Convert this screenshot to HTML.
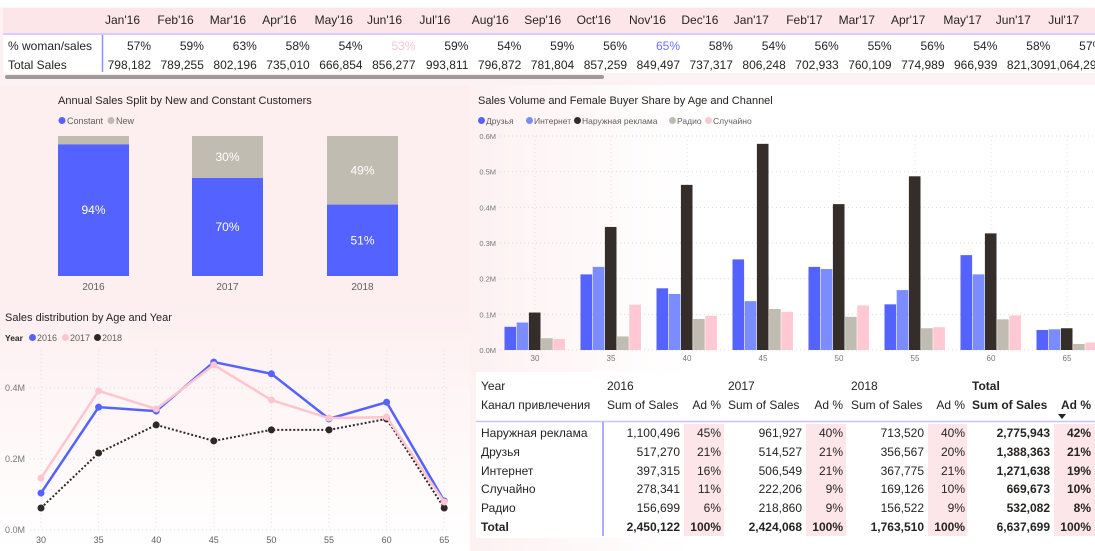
<!DOCTYPE html>
<html><head><meta charset="utf-8">
<style>
body{margin:0;width:1095px;height:551px;overflow:hidden;background:#fff;font-family:"Liberation Sans","DejaVu Sans",sans-serif;position:relative;color:#252423}
.abs{position:absolute}
svg text{font-family:"Liberation Sans","DejaVu Sans",sans-serif}
</style></head>
<body>
<div class="abs" style="left:0;top:85px;width:470px;height:466px;background:linear-gradient(180deg,#fdeef0 0%,#fdeef0 45%,#fef3f4 60%,#ffffff 100%)"></div>
<div class="abs" style="left:470px;top:85px;width:625px;height:466px;background:linear-gradient(90deg,#fdf1f2 0%,#ffffff 35%)"></div>
<div class="abs" style="left:0;top:0;width:1095px;height:85px;background:linear-gradient(180deg,#ffffff 0%,#ffffff 8%,#fdf2f3 9%)"></div>
<svg id="svg" class="abs" style="left:0;top:0" width="1095" height="551"></svg>
<script>
// ===== Top matrix data =====
const months=["Jan'16","Feb'16","Mar'16","Apr'16","May'16","Jun'16","Jul'16","Aug'16","Sep'16","Oct'16","Nov'16","Dec'16","Jan'17","Feb'17","Mar'17","Apr'17","May'17","Jun'17","Jul'17"];
const womanShare=["57%","59%","63%","58%","54%","53%","59%","54%","59%","56%","65%","58%","54%","56%","55%","56%","54%","58%","57%"];
const totalSales=["798,182","789,255","802,196","735,010","666,854","856,277","993,811","796,872","781,804","857,259","849,497","737,317","806,248","702,933","760,109","774,989","966,939","821,309","1,064,290"];
// ===== Stacked 100% bar data =====
const splitYears=["2016","2017","2018"];
const constantPct=[94,70,51];
const newPct=[6,30,49];
// ===== Clustered bar data (millions) =====
const ageGroups=[30,35,40,45,50,55,60,65];
const channelNames=["Друзья","Интернет","Наружная реклама","Радио","Случайно"];
const friends=[0.065,0.212,0.173,0.254,0.233,0.128,0.266,0.056];
const internet=[0.077,0.233,0.157,0.137,0.227,0.168,0.212,0.058];
const outdoor=[0.105,0.345,0.463,0.578,0.409,0.487,0.327,0.061];
const radio=[0.033,0.038,0.087,0.115,0.093,0.061,0.086,0.017];
const randomCh=[0.031,0.127,0.096,0.107,0.125,0.064,0.097,0.021];
const barTicks=[0,0.1,0.2,0.3,0.4,0.5,0.6];
const barTickLabels=["0.0M","0.1M","0.2M","0.3M","0.4M","0.5M","0.6M"];
// ===== Line chart data (millions) =====
const lineAges=[30,35,40,45,50,55,60,65];
const sales2016=[0.104,0.346,0.335,0.473,0.440,0.313,0.360,0.082];
const sales2017=[0.146,0.392,0.341,0.465,0.366,0.315,0.318,0.079];
const sales2018=[0.062,0.217,0.296,0.251,0.282,0.282,0.313,0.062];
const lineTicks=[0,0.2,0.4];
const lineTickLabels=["0.0M","0.2M","0.4M"];
// ===== Bottom table data =====
const tblChannels=["Наружная реклама","Друзья","Интернет","Случайно","Радио"];
const tbl2016=["1,100,496","517,270","397,315","278,341","156,699"];
const ad2016=["45%","21%","16%","11%","6%"];
const tbl2017=["961,927","514,527","506,549","222,206","218,860"];
const ad2017=["40%","21%","21%","9%","9%"];
const tbl2018=["713,520","356,567","367,775","169,126","156,522"];
const ad2018=["40%","20%","21%","10%","9%"];
const tblTotal=["2,775,943","1,388,363","1,271,638","669,673","532,082"];
const adTotal=["42%","21%","19%","10%","8%"];
const grand=["2,450,122","100%","2,424,068","100%","1,763,510","100%","6,637,699","100%"];

const svgEl=document.getElementById('svg');
const NS='http://www.w3.org/2000/svg';
function mk(tag,attrs,parent){const e=document.createElementNS(NS,tag);for(const k in attrs)e.setAttribute(k,attrs[k]);(parent||svgEl).appendChild(e);return e;}
function txt(x,y,s,size,fill,anchor,weight,parent){const t=mk('text',{x:x,y:y,'font-size':size,fill:fill,'text-anchor':anchor||'start','font-weight':weight||'normal'},parent);t.textContent=s;return t;}
function grp(name){const g=mk('g',{});return g;}
let tt;

// ---- top matrix ----
const topG=grp('monthly-matrix');
const hb=mk('rect',{x:3,y:8,width:1092,height:25,fill:'#fde6e9'},topG);


mk('line',{x1:3,y1:34,x2:1095,y2:34,stroke:'#c9c2ff','stroke-width':1.5},topG);
mk('rect',{x:3,y:35,width:1092,height:38,fill:'#ffffff'},topG);
mk('line',{x1:102.5,y1:35,x2:102.5,y2:72,stroke:'#8f8fff','stroke-width':1.5},topG);
tt=txt(8,50,'% woman/sales',12,'#252423','start','normal',topG);


tt=txt(8,69,'Total Sales',12,'#252423','start','normal',topG);


months.forEach((m,i)=>{
  const right=151+52.9*i;
  const h=txt(105+52.4*i,24,m,12,'#252423','start','normal',topG);
  
  
  let col='#252423';if(m==="Jun'16")col='#f8c6cf';if(m==="Nov'16")col='#6f6fff';
  const a=txt(right,50,womanShare[i],12,col,'end','normal',topG);
  
  
  const b=txt(right,69,totalSales[i],12,'#252423','end','normal',topG);
  
  
});
const sb=mk('rect',{x:5,y:75,width:599,height:4,rx:2,fill:'#9e9a9a'},topG);



// ---- stacked bar chart ----
const sg=grp('customer-split-chart');
tt=txt(58,104,'Annual Sales Split by New and Constant Customers',11,'#252423','start','normal',sg);


mk('circle',{cx:62,cy:120.5,r:3.5,fill:'#5462ff'},sg);
tt=txt(67,124,'Constant',9,'#605e5c','start','normal',sg);


mk('circle',{cx:111,cy:120.5,r:3.5,fill:'#c1bcb1'},sg);
tt=txt(116,124,'New',9,'#605e5c','start','normal',sg);


const sTop=136,sH=140,sX=[58,192,327],sW=71;
splitYears.forEach((y,i)=>{
  const hN=newPct[i]/100*sH, hC=constantPct[i]/100*sH;
  const rn=mk('rect',{x:sX[i],y:sTop,width:sW,height:hN,fill:'#c1bcb1'},sg);
  
  
  const rc=mk('rect',{x:sX[i],y:sTop+hN,width:sW,height:hC,fill:'#5462ff'},sg);
  
  
  if(newPct[i]>=10){const l=txt(sX[i]+sW/2,sTop+hN/2+4,newPct[i]+'%',12,'#fff','middle','normal',sg);
  }
  const l2=txt(sX[i]+sW/2,sTop+hN+hC/2+4,constantPct[i]+'%',12,'#fff','middle','normal',sg);
  
  
  const xl=txt(sX[i]+sW/2,290,y,10,'#605e5c','middle','normal',sg);
  
  
});

// ---- clustered bar chart ----
const bg=grp('channel-age-chart');
tt=txt(478,104,'Sales Volume and Female Buyer Share by Age and Channel',11,'#252423','start','normal',bg);


const chColors=['#5462ff','#7b8cff','#352d2a','#c1bcb1','#ffc8d3'];
const legX=[478,526,574,669,705];
channelNames.forEach((n,i)=>{
  mk('circle',{cx:legX[i]+3.5,cy:120.5,r:3.5,fill:chColors[i]},bg);
  const l=txt(legX[i]+8,124,n,8.5,'#605e5c','start','normal',bg);
  
  
});
const by=v=>350-v/0.6*214;
const gx=i=>535+76*i;
barTicks.forEach((v,i)=>{
  mk('line',{x1:500,y1:by(v),x2:1095,y2:by(v),stroke:'#ddd','stroke-dasharray':'1 3'},bg);
  const l=txt(496,by(v)+3,barTickLabels[i],7.5,'#777','end','normal',bg);
  
  
});
const series=[friends,internet,outdoor,radio,randomCh];
ageGroups.forEach((a,i)=>{
  mk('line',{x1:gx(i),y1:136,x2:gx(i),y2:350,stroke:'#e4e4e4','stroke-dasharray':'1 3'},bg);
  series.forEach((s,k)=>{
    const r=mk('rect',{x:gx(i)-30.5+12.2*k,y:by(s[i]),width:11.6,height:350-by(s[i]),fill:chColors[k]},bg);
    
    
  });
  const l=txt(gx(i),361,String(a),8,'#777','middle','normal',bg);
  
  
});

// ---- line chart ----
const lg=grp('age-year-line-chart');
tt=txt(5,321,'Sales distribution by Age and Year',11,'#252423','start','normal',lg);


tt=txt(5,341,'Year',8.5,'#252423','start','bold',lg);


const lcol=['#5462ff','#ffc5cf','#2f2826'];
[['2016',33],['2017',66],['2018',98]].forEach((e,i)=>{
  mk('circle',{cx:e[1]-0.5,cy:337.5,r:3.5,fill:lcol[i]},lg);
  const l=txt(e[1]+4,341,e[0],9,'#605e5c','start','normal',lg);
  
  
});
const lx=i=>41+57.6*i;
const ly=v=>530-v/0.2*71;
lineTicks.forEach((v,i)=>{
  mk('line',{x1:30,y1:ly(v),x2:450,y2:ly(v),stroke:'#ddd','stroke-dasharray':'1 3'},lg);
  const l=txt(5,ly(v)+3,lineTickLabels[i],9,'#777','start','normal',lg);
  
  
});
lineAges.forEach((a,i)=>{
  mk('line',{x1:lx(i),y1:350,x2:lx(i),y2:530,stroke:'#e2e2e2','stroke-dasharray':'1 3'},lg);
  const l=txt(lx(i),543,String(a),9,'#605e5c','middle','normal',lg);
  
  
});
function drawLine(arr,col,dash,name){
  const pts=arr.map((v,i)=>lx(i)+','+ly(v)).join(' ');
  const p=mk('polyline',{points:pts,fill:'none',stroke:col,'stroke-width':dash?2:2.5},lg);
  if(dash)p.setAttribute('stroke-dasharray','2 2');
  
  
  arr.forEach((v,i)=>{const c=mk('circle',{cx:lx(i),cy:ly(v),r:3.5,fill:col},lg);
    
    });
}
drawLine(sales2018,'#2f2826',true,'line-2018');
drawLine(sales2016,'#5462ff',false,'line-2016');
drawLine(sales2017,'#ffc5cf',false,'line-2017');

// ---- bottom table ----
const tg=grp('channel-year-table');
mk('rect',{x:476,y:372,width:619,height:166,fill:'#ffffff'},tg);
const pinkX=[684,806,928,1054],pinkW=[40,40,39,41];
pinkX.forEach((x,i)=>mk('rect',{x:x,y:424,width:pinkW[i],height:112,fill:'#fde6e9'},tg));
mk('line',{x1:476,y1:421.5,x2:1095,y2:421.5,stroke:'#c9c2ff','stroke-width':1.5},tg);
mk('line',{x1:603,y1:422,x2:603,y2:536,stroke:'#8f8fff','stroke-width':1.5},tg);
txt(481,390,'Year',12,'#252423','start','normal',tg);
txt(481,409,'Канал привлечения',12,'#252423','start','normal',tg);
const yrX=[607,728,851];
['2016','2017','2018'].forEach((y,i)=>{
  txt(yrX[i],390,y,12,'#252423','start','normal',tg);
  txt(yrX[i],409,'Sum of Sales',12,'#252423','start','normal',tg);
  txt(pinkX[i]+37,409,'Ad %',12,'#252423','end','normal',tg);
});
txt(972,390,'Total',12,'#252423','start','bold',tg);
txt(972,409,'Sum of Sales',12,'#252423','start','bold',tg);
tt=txt(1091,409,'Ad %',12,'#252423','end','bold',tg);


mk('polygon',{points:'1058,414 1066,414 1062,419',fill:'#252423'},tg);
const sumEnds=[680,802,924,1050],adEnds=[721,843,965,1091];
const rowY=[437,456,475,493,512];
tblChannels.forEach((c,r)=>{
  const y=rowY[r];
  const l=txt(481,y,c,12,'#252423','start','normal',tg);
  
  
  [tbl2016,tbl2017,tbl2018].forEach((arr,k)=>txt(sumEnds[k],y,arr[r],12,'#252423','end','normal',tg));
  [ad2016,ad2017,ad2018].forEach((arr,k)=>txt(adEnds[k],y,arr[r],12,'#252423','end','normal',tg));
  txt(sumEnds[3],y,tblTotal[r],12,'#252423','end','bold',tg);
  txt(adEnds[3],y,adTotal[r],12,'#252423','end','bold',tg);
});
txt(481,531,'Total',12,'#252423','start','bold',tg);
for(let k=0;k<4;k++){txt(sumEnds[k],531,grand[2*k],12,'#252423','end','bold',tg);txt(adEnds[k],531,grand[2*k+1],12,'#252423','end','bold',tg);}
</script>
</body></html>
